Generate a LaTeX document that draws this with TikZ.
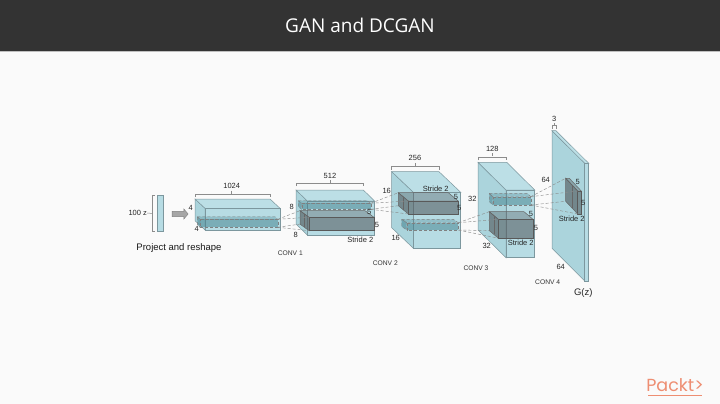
\documentclass[tikz,border=0pt]{standalone}
\usepackage{fontspec}
\setmainfont{Liberation Sans}
\newfontfamily\titlefont{Open Sans}
\newfontfamily\logofont{Poppins}
\usetikzlibrary{shapes.arrows}

\definecolor{pagebg}{HTML}{FAFAFA}
\definecolor{headbg}{HTML}{333333}
\definecolor{packt}{HTML}{EE8E72}
\definecolor{edgecol}{HTML}{7C979E}
\definecolor{sidecol}{HTML}{ABD4DC}
\definecolor{topcol}{HTML}{BCDFE6}
\definecolor{frontcol}{HTML}{B7DCE4}
\definecolor{patchcol}{HTML}{3F7F8C}
\definecolor{convcol}{HTML}{4F5558}

% back top left at (#3,#4), width #5, depth (#6,#7), height #8
\newcommand{\cuboid}[8]{
  \coordinate (#1-nw) at (#3,#4);
  \coordinate (#1-ne) at (#3+#5,#4);
  \coordinate (#1-sw) at (#3,#4+#8);
  \coordinate (#1-fnw) at (#3+#6,#4+#7);
  \coordinate (#1-fne) at (#3+#6+#5,#4+#7);
  \coordinate (#1-fsw) at (#3+#6,#4+#7+#8);
  \coordinate (#1-fse) at (#3+#6+#5,#4+#7+#8);
  \path[#2 left] (#1-nw) -- (#1-fnw) -- (#1-fsw) -- (#1-sw) -- cycle;
  \path[#2 top] (#1-nw) -- (#1-ne) -- (#1-fne) -- (#1-fnw) -- cycle;
  \path[#2 front] (#1-fnw) -- (#1-fne) -- (#1-fse) -- (#1-fsw) -- cycle;
  \path[#2 mid] (#3+#6/2,#4+#7/2) -- ++(0,#8);
}
% bracket over the top edge, from #1 to #2, lifted by #3
\newcommand{\dimbar}[3]{
  \draw[bar] ([yshift=#3]#1) -- ++(0,-3) -| ([yshift=#3]#2);
}

\begin{document}
\begin{tikzpicture}[x=1pt,y=-1pt,
  block left/.style={draw=edgecol,line width=.5pt,fill=sidecol},
  block top/.style={draw=edgecol,line width=.5pt,fill=topcol},
  block front/.style={draw=edgecol,line width=.5pt,fill=frontcol},
  block mid/.style={},
  conv left/.style={draw=black!60,line width=.5pt,fill=convcol,fill opacity=.6},
  conv top/.style={draw=black!60,line width=.5pt,fill=convcol,fill opacity=.35},
  conv front/.style={draw=black!65,line width=.6pt,fill=convcol,fill opacity=.55},
  conv mid/.style={draw=black!60,line width=.4pt},
  patch left/.style={draw=black!50,densely dashed,line width=.4pt,fill=patchcol,fill opacity=.55},
  patch top/.style={draw=black!50,densely dashed,line width=.4pt,fill=patchcol,fill opacity=.3},
  patch front/.style={draw=black!50,densely dashed,line width=.4pt,fill=patchcol,fill opacity=.5},
  patch mid/.style={},
  fan/.style={draw=black!45,densely dashed,line width=.45pt},
  bar/.style={draw=black!45,line width=.5pt},
  dim/.style={font=\fontsize{7.5}{9}\selectfont,text=black!85,inner sep=0pt},
  conv label/.style={font=\fontsize{6.7}{8}\selectfont,text=black!80,inner sep=0pt}]

  \useasboundingbox (0,0) rectangle (720,404);
  \fill[pagebg] (0,0) rectangle (720,404);
  \fill[black!25] (0,51) rectangle (720,52.5);
  \fill[headbg] (0,0) rectangle (720,51);
  \node[text=white,inner sep=0pt,font=\titlefont\fontsize{19}{23}\selectfont] (title) at (360,25.5) {GAN and DCGAN};

  % input
  \node[draw=edgecol,fill=frontcol,line width=.5pt,inner sep=0pt,minimum width=6.4pt,minimum height=36.7pt] (zbar) at (160.5,213.3) {};
  \node[dim] (zlabel) at (137.7,213) {100 z};
  \coordinate (zt) at (155,195);
  \coordinate (zb) at (155,231.7);
  \draw[bar] (zt) -- ++(-2.5,0) |- (zb);
  \draw[bar] (152.5,213.3) -- (zlabel);
  \node[single arrow,draw=black!50,fill=black!35,line width=.4pt,minimum height=16pt,minimum width=10pt,single arrow head extend=1.5pt,single arrow tip angle=100,inner sep=1.5pt] (proj) at (179,214) {};
  \node[font=\fontsize{9.5}{12}\selectfont,text=black!90,inner sep=0pt] (reshape) at (179,247.7) {Project and reshape};

  % layers
  \cuboid{l1}{block}{195}{199}{75}{10}{9.3}{21.7}
  \cuboid{p1}{patch}{197.3}{216.7}{77.7}{2.7}{2.6}{8}

  \cuboid{l2}{block}{296}{190}{67.3}{11.3}{11}{34}
  \cuboid{p2}{patch}{298.3}{200.7}{69}{3.4}{2.6}{6}
  \cuboid{c2}{conv}{300}{210.7}{65}{9}{6.6}{13.4}

  \cuboid{l3}{block}{391.7}{171.7}{47.3}{21.7}{20.6}{56}
  \cuboid{c3}{conv}{398.3}{192.7}{50}{10}{8.3}{13}
  \cuboid{p3}{patch}{401.7}{219.3}{51.6}{5}{3.4}{7.3}

  \cuboid{l4}{block}{478}{162.3}{28.7}{28}{27.7}{67.7}
  \cuboid{p4}{patch}{489.3}{193.3}{38}{3.4}{3.4}{8.3}
  \cuboid{c4}{conv}{489.3}{211.7}{34.7}{9}{7.6}{18.9}

  \cuboid{l5}{block}{552}{130.7}{4}{32.7}{32.6}{117.6}
  \cuboid{c5}{conv}{565.7}{178.3}{3.6}{12}{12.7}{23}

  % receptive fields
  \path[fan]
    (p1-fne) edge (c2-nw)
    (p1-fne) edge (c2-fnw)
    (p1-fse) edge (c2-fsw)
    (p1-fse) edge (c2-sw)
    (p2-fne) edge (c3-nw)
    (p2-fne) edge (c3-fnw)
    (p2-fse) edge (c3-fsw)
    (p2-fse) edge (c3-sw)
    (p3-fne) edge (c4-nw)
    (p3-fne) edge (c4-fnw)
    (p3-fse) edge (c4-fsw)
    (p3-fse) edge (c4-sw)
    (p4-fne) edge (c5-nw)
    (p4-fne) edge (c5-fnw)
    (p4-fse) edge (c5-fsw)
    (p4-fse) edge (c5-sw);

  % brackets
  \dimbar{l1-nw}{l1-ne}{2pt}
  \node[dim] (w1) at (231.7,186) {1024};
  \dimbar{l2-nw}{l2-ne}{4pt}
  \node[dim] (w2) at (330,175.7) {512};
  \dimbar{l3-nw}{l3-ne}{2pt}
  \node[dim] (w3) at (415,158.3) {256};
  \dimbar{l4-nw}{l4-ne}{2pt}
  \node[dim] (w4) at (492.3,148.7) {128};
  \dimbar{l5-nw}{l5-ne}{2pt}
  \node[dim] (w5) at (554.3,118.7) {3};
  \draw[bar] (w1) ++(0,4.5) -- ++(0,3);
  \draw[bar] (w2) ++(0,4.5) -- ++(0,3);
  \draw[bar] (w3) ++(0,4.5) -- ++(0,3);
  \draw[bar] (w4) ++(0,4.5) -- ++(0,3);
  \draw[bar] (w5) ++(0,4.5) -- ++(0,2);

  % sizes
  \node[dim] (a1) at (190.7,208) {4};
  \node[dim] (b1) at (196.7,228.7) {4};
  \node[dim] (a2) at (291.7,206.7) {8};
  \node[dim] (b2) at (295.7,235) {8};
  \node[dim] (s2a) at (369.3,211.7) {5};
  \node[dim] (s2b) at (377,225) {5};
  \node[dim] (st2) at (360.3,240) {Stride 2};
  \node[dim] (a3) at (386.7,191) {16};
  \node[dim] (b3) at (395.7,238.3) {16};
  \node[dim] (s3a) at (456,196.7) {5};
  \node[dim] (s3b) at (459.3,208.3) {5};
  \node[dim] (st3) at (435.7,189) {Stride 2};
  \node[dim] (a4) at (472.3,198.7) {32};
  \node[dim] (b4) at (486.7,246) {32};
  \node[dim] (s4a) at (531,213.7) {5};
  \node[dim] (s4b) at (536,227.7) {5};
  \node[dim] (st4) at (520.7,243.3) {Stride 2};
  \node[dim] (a5) at (545.7,180.3) {64};
  \node[dim] (b5) at (560.7,267) {64};
  \node[dim] (s5a) at (577.7,182) {5};
  \node[dim] (s5b) at (583.3,202.7) {5};
  \node[dim] (st5) at (571.7,219) {Stride 2};

  \node[conv label] (conv1) at (290.3,252.7) {CONV 1};
  \node[conv label] (conv2) at (385.3,262.7) {CONV 2};
  \node[conv label] (conv3) at (476,267.7) {CONV 3};
  \node[conv label] (conv4) at (547.7,282.3) {CONV 4};
  \node[font=\fontsize{9.5}{11}\selectfont,text=black!85,inner sep=0pt] (gz) at (583.3,293.3) {G(z)};

  % logo
  \node[font=\logofont\fontsize{17.5}{22}\selectfont,text=packt,inner sep=0pt] (logo) at (675,385.5) {Packt>};
  \draw[packt,line width=1.2pt] (648,395.3) -- (702,395.3);
\end{tikzpicture}
\end{document}
